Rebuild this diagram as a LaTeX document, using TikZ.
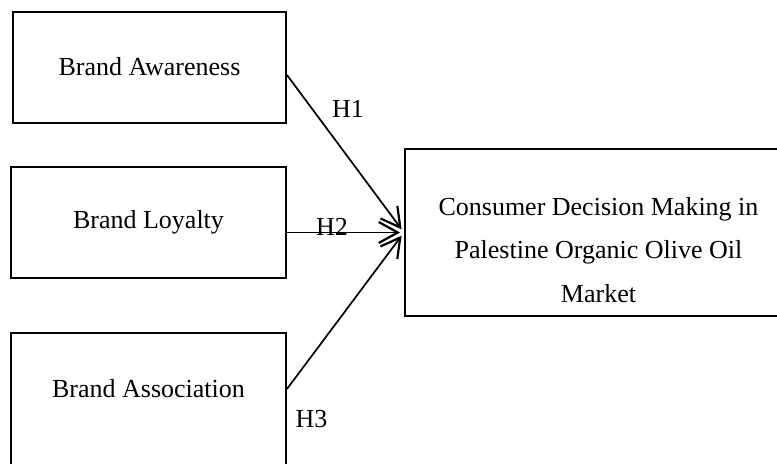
\documentclass[tikz,border=0pt]{standalone}
\usepackage{fontspec}
\setmainfont{Liberation Serif}
\usetikzlibrary{arrows.meta,calc}
\begin{document}
\begin{tikzpicture}[x=0.5pt,y=-0.5pt,
  box/.style={draw,line width=1pt,rectangle,inner sep=0pt},
  lbl/.style={inner sep=0pt,font=\fontsize{13pt}{21.75pt}\selectfont},
  link/.style={line width=0.85pt,-{Straight Barb[length=9.5pt,width=10.5pt,line width=1.1pt]},shorten >=2pt}]
\useasboundingbox[clip] (0,0) rectangle (777,464);
\node[box,minimum width=136.5pt,minimum height=55.5pt] (aw) at (149.5,67.5) {};
\node[lbl] (awt) at (149.5,66.5) {Brand Awareness};
\node[box,minimum width=137.5pt,minimum height=55.5pt] (lo) at (148.5,222.5) {};
\node[lbl] (lot) at (148.5,222.5) {Brand Loyalty};
\node[box,minimum width=137.5pt,minimum height=73.5pt] (as) at (148.5,406.5) {};
\node[lbl] (ast) at (148.5,389) {Brand Association};
\node[box,minimum width=197.5pt,minimum height=83.5pt] (cdm) at (602.5,232.5) {};
\node[lbl,align=center] (cdmt) at (598.5,250) {Consumer Decision Making in\\Palestine Organic Olive Oil\\Market};
\coordinate (s1) at ($(aw.east)+(0,7.5)$);
\coordinate (s2) at (lo.east |- cdm.west);
\coordinate (s3) at (as.east |- ast.center);
\draw[link] (s1) -- (cdm.west);
\draw[link] (s2) -- (cdm.west);
\draw[link] (s3) -- (cdm.west);
\node[lbl] (h1) at (348,108.5) {H1};
\node[lbl] (h2) at (332,226.5) {H2};
\node[lbl] (h3) at (311.5,419) {H3};
\end{tikzpicture}
\end{document}
